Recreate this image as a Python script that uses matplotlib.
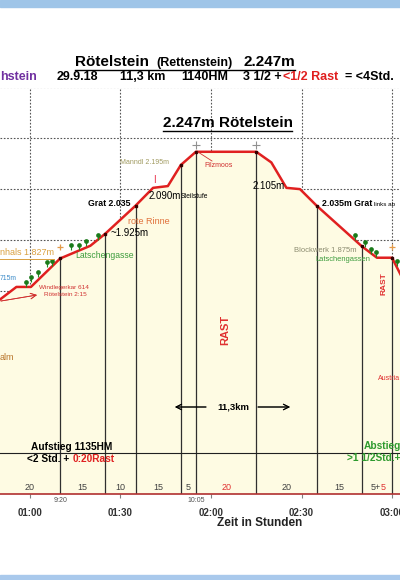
import numpy as np
import matplotlib
matplotlib.use('Agg')
import matplotlib.pyplot as plt
import matplotlib.transforms as mtransforms
from matplotlib.lines import Line2D
from matplotlib.patches import Rectangle

plt.rcParams['font.family'] = ['Liberation Sans', 'DejaVu Sans']

# Hoehenprofil: Gehzeit (min) und Hoehe (m)
time_min = [50, 55.5, 60.3, 70, 80, 85, 95, 100.8, 105.7, 110, 115,
            135, 140, 145, 149.5, 155, 170, 175, 180, 186]
elev_m = [1665, 1715, 1715, 1827, 1877, 1925, 2035, 2105, 2112, 2195, 2247,
          2247, 2205, 2105, 2100, 2035, 1875, 1830, 1830, 1690]

# Abschnitte (min) und Gehminuten je Abschnitt
seg_edges = [50, 70, 85, 95, 110, 115, 135, 155, 170, 180]
seg_minutes = ['20', '15', '10', '15', '5', '20', '20', '15', '5+5']
seg_red = [False, False, False, False, False, True, False, False, False]

# Uhrzeiten
clock_at = [70, 115]
clock_labels = ['9:20', '10:05']

hour_ticks = [60, 90, 120, 150, 180]
hour_labels = ['01:00', '01:30', '02:00', '02:30', '03:00']

# Latschen
tree_t = [58.7, 60.3, 62.7, 65.6, 67.3, 73.6, 76.2, 78.6, 82.5,
          167.7, 171.0, 173.0, 174.7, 181.6]
tree_e = [1732, 1751, 1771, 1810, 1814, 1877, 1877, 1893, 1917,
          1917, 1889, 1862, 1850, 1814]

peak_marks = [115, 135]
orange_marks = [70, 180]

W, H = 400, 580
fig = plt.figure(figsize=(W / 100, H / 100), dpi=100)
fig.patches.append(Rectangle((0, 1 - 7 / H), 1, 7 / H, transform=fig.transFigure,
                             color='#9fc5e8', zorder=0))
fig.patches.append(Rectangle((0, 0), 1, 5 / H, transform=fig.transFigure,
                             color='#a9c9ec', zorder=0))

ax = fig.add_axes([0, (H - 494) / H, 1, (494 - 87.5) / H])
ax.set_xlim(50.06, 182.65)
ax.set_ylim(900, 2500)

ax.set_yticks(range(900, 2501, 200))
ax.set_xticks(hour_ticks)
ax.set_xticklabels(hour_labels, fontweight='bold')
ax.grid(True, ls=(0, (1.5, 1.5)), color='#555555', lw=0.8)
ax.set_axisbelow(True)
ax.tick_params(axis='y', left=False, labelleft=False)
ax.tick_params(axis='x', length=3, color='#808080', labelsize=7,
               labelcolor='#333333', pad=7)
for s in ['left', 'right', 'top']:
    ax.spines[s].set_visible(False)
ax.spines['bottom'].set_color('#b03030')
ax.spines['bottom'].set_linewidth(1.2)

t = np.array(time_min)
e = np.array(elev_m)
ax.fill_between(t, e, 900, color='#fefbe3', zorder=1, lw=0)

edges = np.array(seg_edges)
edge_e = np.interp(edges, t, e)
ax.vlines(edges[1:], 900, edge_e[1:], color='#303030', lw=0.9, zorder=2)
ax.axhline(1062, color='#202020', lw=0.8, zorder=2)

ax.plot(t, e, color='#e02020', lw=1.8, zorder=4, solid_joinstyle='round')
ax.plot(edges[1:], edge_e[1:], 's', ms=1.7, color='#3a0000', zorder=5)

# Latschen
ax.plot(tree_t, tree_e, '|', ms=5, mew=0.8, color='#1e8c1e', zorder=5,
        transform=mtransforms.offset_copy(ax.transData, fig=fig, y=-1.5, units='dots'))
ax.plot(tree_t, tree_e, 'o', ms=3.4, color='#1a7a1a', mew=0, zorder=6,
        transform=mtransforms.offset_copy(ax.transData, fig=fig, y=1, units='dots'))

pk = np.interp(peak_marks, t, e)
ax.plot(peak_marks, pk, '+', ms=6, mew=0.8, color='#909090', zorder=5, clip_on=False,
        transform=mtransforms.offset_copy(ax.transData, fig=fig, y=7, units='dots'))
om = np.interp(orange_marks, t, e)
ax.plot(orange_marks, om, '+', ms=5, mew=0.9, color='#e39b4a', zorder=5,
        transform=mtransforms.offset_copy(ax.transData, fig=fig, y=11, units='dots'))

# Minuten je Abschnitt
xt = ax.get_xaxis_transform()
seg_y = (494 - 487) / 406.5
mids = (edges[:-1] + edges[1:]) / 2
for m, lab, red in zip(mids, seg_minutes, seg_red):
    if '+' in lab:
        a, b = lab.split('+')
        tr = mtransforms.offset_copy(xt, fig=fig, x=4, units='dots')
        ax.text(m, seg_y, a + '+', transform=tr, ha='right', va='center',
                fontsize=6.5, color='#404040')
        ax.text(m, seg_y, b, transform=tr, ha='left', va='center',
                fontsize=6.5, color='#e03030')
    else:
        ax.text(m, seg_y, lab, transform=xt, ha='center', va='center',
                fontsize=6.5, color='#e03030' if red else '#404040')

clock_y = (494 - 501) / 406.5
for c, lab in zip(clock_at, clock_labels):
    ax.text(c, clock_y, lab, transform=xt, ha='center', va='center',
            fontsize=5, color='#505050', clip_on=False)


def label(x, y, s, size, color='black', weight='normal', ha='left', **kw):
    return fig.text(x / W, 1 - y / H, s, fontsize=size, color=color,
                    fontweight=weight, ha=ha, va='center', **kw)


def fline(x1, y1, x2, y2, color='black', lw=0.8):
    fig.add_artist(Line2D([x1 / W, x2 / W], [1 - y1 / H, 1 - y2 / H],
                          transform=fig.transFigure, color=color, lw=lw))


def farrow(x1, y1, x2, y2, color='black', lw=0.7):
    fig.add_artist(plt.annotate('', xy=(x2 / W, 1 - y2 / H), xytext=(x1 / W, 1 - y1 / H),
                                xycoords='figure fraction',
                                arrowprops=dict(arrowstyle='->', color=color, lw=lw,
                                                shrinkA=0, shrinkB=0)))


# Titel
label(75, 62, 'Rötelstein', 11, weight='bold')
label(156, 63, '(Rettenstein)', 9, weight='bold')
label(243, 62, '2.247m', 11, weight='bold')
fline(75, 69.5, 295, 69.5, lw=1)

label(0, 77, 'hstein', 9, color='#7030a0', weight='bold')
label(57, 77, '29.9.18', 9, weight='bold')
label(120, 77, '11,3 km', 9, weight='bold')
label(181, 77, '1140HM', 9, weight='bold')
label(243, 77, '3 1/2 +', 9, weight='bold')
label(283, 77, '<1/2 Rast', 9, color='#e02020', weight='bold')
label(345, 77, '= <4Std.', 9, weight='bold')

label(163, 123, '2.247m Rötelstein', 11, weight='bold')
fline(163, 131, 292, 131, lw=1)

# Beschriftungen am Profil
label(120, 163, 'Manndl 2.195m', 5, color='#a09a60')
label(154, 180, 'I', 7, color='#e8304a', ha='center')
label(149, 196, '2.090m', 7)
label(181, 197, 'Steilstufe', 4.8)
label(88, 203, 'Grat 2.035', 6.3, weight='bold')
label(204, 165, 'Filzmoos', 5, color='#d03030')
fline(198, 152, 212, 161, color='#d03030', lw=0.6)
label(253, 186, '2.105m', 7)
label(322, 203, '2.035m Grat', 6.3, weight='bold')
label(374, 204, 'links ab', 4.5)
label(128, 221, 'rote Rinne', 6.5, color='#e0703a')
label(110, 233, '~1.925m', 7)
label(75, 256, 'Latschengasse', 6.2, color='#3c9c3c')
label(0, 253, 'nhals 1.827m', 6.5, color='#d9a040')
fline(0, 259, 54, 259, color='#d9a040', lw=0.7)
label(0, 279, '715m', 4.9, color='#3a8ac8')
label(64, 288, 'Windlegerkar 614', 4.6, color='#d03030', ha='center')
label(65, 295, 'Rötelstein 2:15', 4.6, color='#d03030', ha='center')
farrow(1, 301, 37, 295, color='#d03030', lw=0.6)
label(294, 251, 'Blockwerk 1.875m', 5.5, color='#8c8c70')
label(315, 259, 'Latschengassen', 5.4, color='#3c9c3c')
label(225, 330, 'RAST', 8, color='#e03030', weight='bold', ha='center', rotation=90)
label(384, 284, 'RAST', 6, color='#e03030', weight='bold', ha='center', rotation=90)
label(378, 378, 'Austria', 5, color='#e03030')
label(0, 358, 'alm', 6.5, color='#b8742a')

label(217, 407, '11,3km', 6.8, weight='bold')
farrow(206, 407, 175, 407)
farrow(258, 407, 290, 407)

label(31, 447, 'Aufstieg 1135HM', 7.3, weight='bold')
label(27, 459, '<2 Std. +', 7.3, weight='bold')
label(73, 459, '0:20Rast', 7.3, color='#e02020', weight='bold')
label(364, 446, 'Abstieg', 7.3, color='#2e9a2e', weight='bold')
label(347, 458, '>1 1/2Std.+', 7.3, color='#2e9a2e', weight='bold')

label(217, 523, 'Zeit in Stunden', 8.5, weight='bold', color='#222222')

fig.savefig('out.png', dpi=100)
